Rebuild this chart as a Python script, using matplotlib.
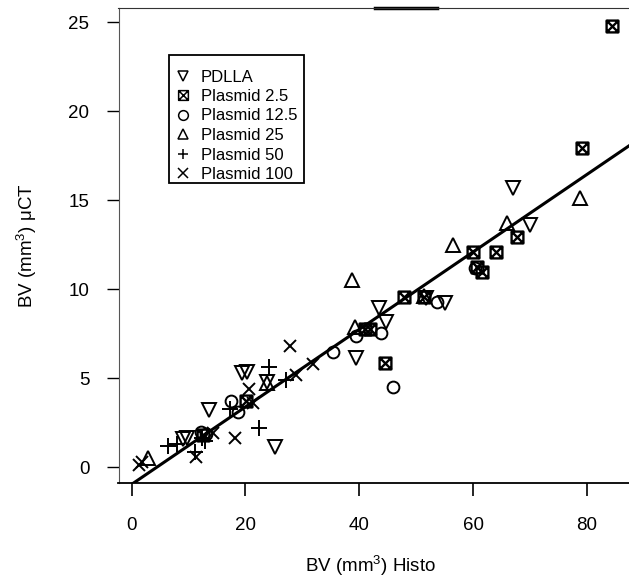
import matplotlib
matplotlib.use('Agg')
import matplotlib.pyplot as plt
import numpy as np
from matplotlib.path import Path
from matplotlib.patches import Rectangle

plt.rcParams['font.family'] = ['Liberation Sans', 'DejaVu Sans']
plt.rcParams['mathtext.fontset'] = 'custom'
plt.rcParams['mathtext.rm'] = 'Liberation Sans'

# data: (Histo BV, microCT BV)
pdlla_x = [67.1, 70.0, 51.7, 55.1, 43.5, 44.7, 39.4, 19.3, 20.2, 23.7, 13.5, 25.2, 9.8, 9.0]
pdlla_y = [15.67, 13.61, 9.51, 9.21, 8.93, 8.18, 6.12, 5.28, 5.37, 4.81, 3.22, 1.16, 1.63, 1.59]

p25_x = [84.5, 79.1, 67.7, 64.1, 59.9, 60.6, 61.6, 47.9, 51.4, 41.0, 41.9, 44.5, 20.1, 12.5]
p25_y = [24.8, 17.94, 12.94, 12.11, 12.08, 11.27, 10.97, 9.58, 9.55, 7.77, 7.77, 5.84, 3.74, 1.82]

p125_x = [60.3, 53.6, 39.4, 43.9, 35.4, 45.9, 17.4, 18.7, 12.1, 13.1]
p125_y = [11.17, 9.3, 7.38, 7.56, 6.49, 4.51, 3.74, 3.12, 2.0, 1.87]

p250_x = [78.8, 66.0, 56.5, 51.4, 38.7, 39.2, 23.7, 2.8]
p250_y = [15.11, 13.71, 12.49, 9.62, 10.52, 7.9, 4.74, 0.51]

p50_x = [24.2, 27.1, 17.3, 22.4, 6.4, 8.0, 12.3, 12.9, 11.2]
p50_y = [5.65, 4.88, 3.26, 2.19, 1.2, 1.29, 1.63, 1.49, 0.88]

p100_x = [1.2, 1.8, 11.3, 18.2, 14.3, 21.4, 20.6, 28.9, 31.9, 27.9]
p100_y = [0.13, 0.3, 0.6, 1.63, 1.91, 3.63, 4.38, 5.19, 5.78, 6.81]

fit_intercept = -0.956
fit_slope = 0.2176

# square with a cross inside (R pch 7)
box_x = Path([(-1, -1), (1, -1), (1, 1), (-1, 1), (-1, -1),
              (-1, -1), (1, 1), (-1, 1), (1, -1)],
             [Path.MOVETO, Path.LINETO, Path.LINETO, Path.LINETO, Path.CLOSEPOLY,
              Path.MOVETO, Path.LINETO, Path.MOVETO, Path.LINETO])

W, H = 629, 584
fig = plt.figure(figsize=(W / 100, H / 100), dpi=100)
ax = fig.add_axes([118.5 / W, 1 - 483.3 / H, (W - 118.5) / W, 475 / H])

kw = dict(linestyle='none', color='black', markerfacecolor='none')
ax.plot(pdlla_x, pdlla_y, marker='v', markersize=10, markeredgewidth=1.4, label='PDLLA', **kw)
ax.plot(p25_x, p25_y, marker=box_x, markersize=8.5, markeredgewidth=1.7, label='Plasmid 2.5', **kw)
ax.plot(p125_x, p125_y, marker='o', markersize=8.5, markeredgewidth=1.4, label='Plasmid 12.5', **kw)
ax.plot(p250_x, p250_y, marker='^', markersize=10, markeredgewidth=1.4, label='Plasmid 25', **kw)
ax.plot(p50_x, p50_y, marker='+', markersize=12, markeredgewidth=1.4, label='Plasmid 50', **kw)
ax.plot(p100_x, p100_y, marker='x', markersize=8.5, markeredgewidth=1.4, label='Plasmid 100', **kw)

xx = np.array([-5, 95])
ax.plot(xx, fit_intercept + fit_slope * xx, color='black', lw=2.2)

ax.set_xlim(-2.32, 87.4)
ax.set_ylim(-0.9, 25.79)
ax.set_xticks([0, 20, 40, 60, 80])
ax.set_yticks([0, 5, 10, 15, 20, 25])
ax.tick_params(axis='x', direction='out', length=9, width=1.2, pad=15, labelsize=13.5)
ax.tick_params(axis='y', direction='out', length=9, width=1, pad=12, labelsize=13.5)

ax.spines['right'].set_visible(False)
ax.spines['top'].set_color('#333333')
ax.spines['left'].set_color('#555555')
ax.spines['bottom'].set_linewidth(1.3)
# darker stretch on the top frame
ax.plot([0.502, 0.624], [1, 1], transform=ax.transAxes, color='black', lw=2.5, clip_on=False)

ax.set_xlabel('BV (mm$^3$) Histo', fontsize=13.5)
ax.xaxis.set_label_coords(0.493, -0.148)
ax.set_ylabel('BV (mm$^3$) μCT', fontsize=13.5)
ax.yaxis.set_label_coords(-0.155, 0.5)

# legend without its own frame, box drawn separately
leg = ax.legend(loc='upper left', bbox_to_anchor=(175.5 / W, 1 - 69.5 / H),
                bbox_transform=fig.transFigure, borderaxespad=0, borderpad=0,
                fontsize=12, frameon=False, labelspacing=0.27,
                handlelength=0.9, handletextpad=0.63, numpoints=1)
for h in leg.legend_handles:
    h.set_markersize(7)
    h.set_markeredgewidth(1.1)
fig.patches.append(Rectangle((169 / W, 1 - 183 / H), 135 / W, 128 / H,
                             transform=fig.transFigure, fill=False,
                             edgecolor='black', linewidth=1.3))

fig.savefig('out.png', dpi=100)
